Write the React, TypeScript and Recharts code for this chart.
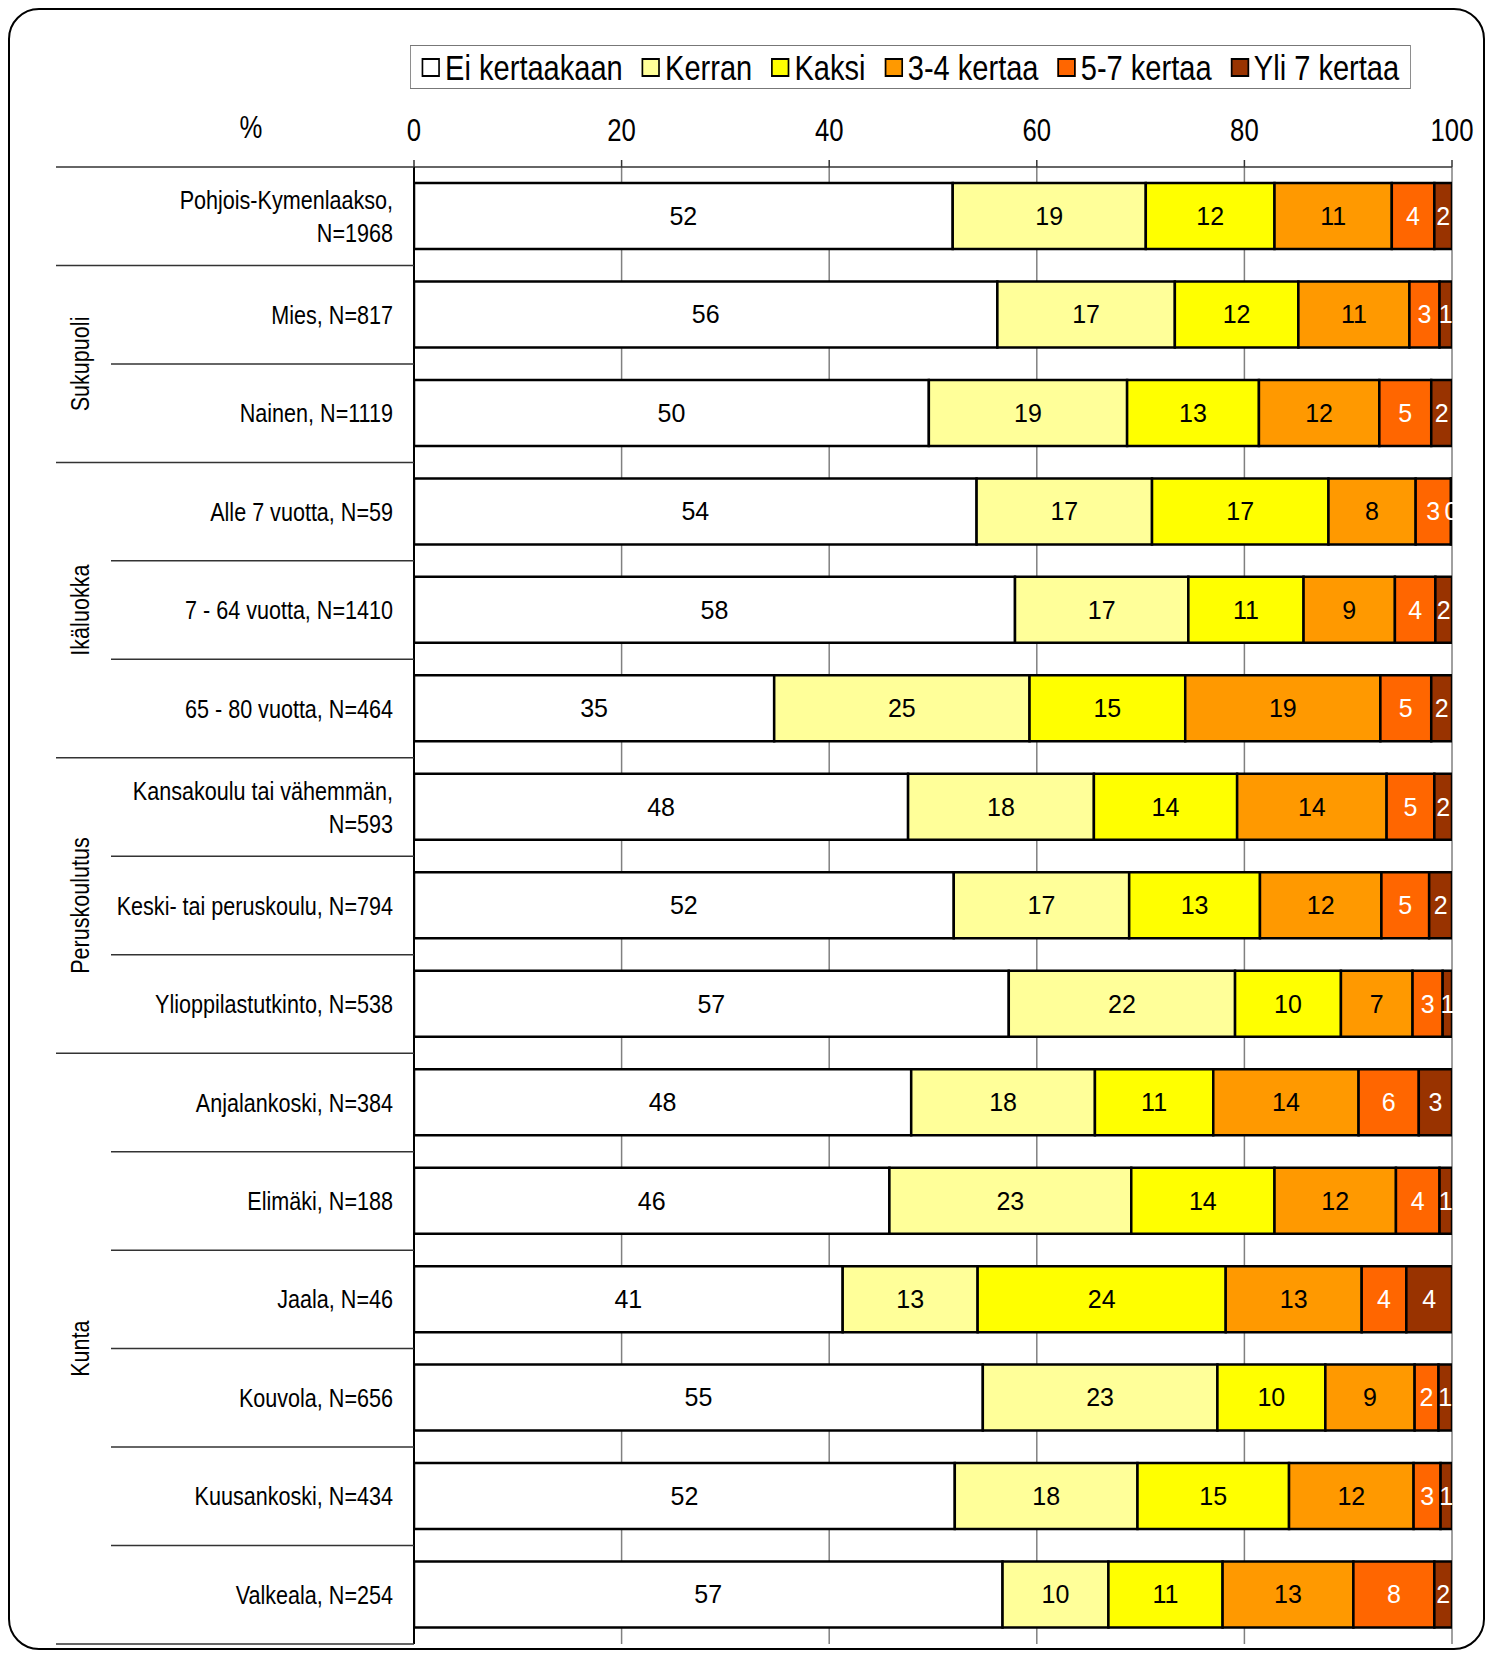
import React from 'react';
import { BarChart, Bar, XAxis, YAxis, CartesianGrid, LabelList } from 'recharts';

const categories = [
  'Pohjois-Kymenlaakso,\nN=1968',
  'Mies, N=817',
  'Nainen, N=1119',
  'Alle 7 vuotta, N=59',
  '7 - 64 vuotta, N=1410',
  '65 - 80 vuotta, N=464',
  'Kansakoulu tai vähemmän,\nN=593',
  'Keski- tai peruskoulu, N=794',
  'Ylioppilastutkinto, N=538',
  'Anjalankoski, N=384',
  'Elimäki, N=188',
  'Jaala, N=46',
  'Kouvola, N=656',
  'Kuusankoski, N=434',
  'Valkeala, N=254',
];

const groupNames = ['', 'Sukupuoli', 'Ikäluokka', 'Peruskoulutus', 'Kunta'];
const groupSizes = [1, 2, 3, 3, 6];

const eiKertaakaan = [51.9, 56.2, 49.6, 54.2, 57.9, 34.7, 47.6, 52.0, 57.3, 47.9, 45.8, 41.3, 54.8, 52.1, 56.7];
const kerran = [18.6, 17.1, 19.1, 16.9, 16.7, 24.6, 17.9, 16.9, 21.8, 17.7, 23.3, 13.0, 22.6, 17.6, 10.2];
const kaksi = [12.4, 11.9, 12.7, 17.0, 11.1, 15.0, 13.8, 12.6, 10.2, 11.4, 13.8, 23.9, 10.4, 14.6, 11.0];
const kertaa34 = [11.3, 10.7, 11.6, 8.4, 8.8, 18.8, 14.4, 11.7, 6.9, 14.0, 11.7, 13.1, 8.6, 12.0, 12.6];
const kertaa57 = [4.1, 2.9, 5.0, 3.4, 3.9, 4.9, 4.6, 4.6, 2.9, 5.8, 4.2, 4.3, 2.3, 2.6, 7.8];
const yli7 = [1.7, 1.2, 2.0, 0.1, 1.6, 2.0, 1.7, 2.2, 0.9, 3.2, 1.2, 4.4, 1.3, 1.1, 1.7];

const xTicks = [0, 20, 40, 60, 80, 100];

const series = [
  { key: 'ei', name: 'Ei kertaakaan', color: '#FFFFFF', text: '#000' },
  { key: 'kerran', name: 'Kerran', color: '#FFFF99', text: '#000' },
  { key: 'kaksi', name: 'Kaksi', color: '#FFFF00', text: '#000' },
  { key: 'k34', name: '3-4 kertaa', color: '#FF9900', text: '#000' },
  { key: 'k57', name: '5-7 kertaa', color: '#FF6600', text: '#fff' },
  { key: 'yli7', name: 'Yli 7 kertaa', color: '#993300', text: '#fff' },
];

const data = categories.map((name, i) => ({
  name,
  ei: eiKertaakaan[i],
  kerran: kerran[i],
  kaksi: kaksi[i],
  k34: kertaa34[i],
  k57: kertaa57[i],
  yli7: yli7[i],
}));

const W = 1486;
const H = 1656;
const MARGIN = { top: 127, right: 34, bottom: 12, left: 0 };
const X_AXIS_H = 40;
const Y_AXIS_W = 414;
const BAND = (H - MARGIN.top - MARGIN.bottom - X_AXIS_H) / categories.length;

// no Arial Narrow installed: squeeze Liberation Sans instead
const FONT = "'Liberation Sans', Arial, Helvetica, sans-serif";
const NARROW = 0.83;

// first row index of every group
const groupStarts: Record<number, number> = {};
{
  let acc = 0;
  groupSizes.forEach((s, g) => {
    groupStarts[acc] = g;
    acc += s;
  });
}

const CategoryTick = (props: any) => {
  const { x, y, payload } = props;
  const index = props.index ?? payload.index;
  const lines = String(payload.value).split('\n');
  const top = y - BAND / 2;
  const axisX = x + 21;
  const g = groupStarts[index];
  const isStart = g !== undefined;
  const last = index === categories.length - 1;
  return (
    <g>
      <line x1={isStart ? 56 : 111} x2={axisX} y1={top} y2={top} stroke="#333" strokeWidth={1.5} />
      {last && <line x1={56} x2={axisX} y1={y + BAND / 2} y2={y + BAND / 2} stroke="#333" strokeWidth={1.5} />}
      {isStart && groupNames[g] && (
        <text
          x={0}
          y={0}
          transform={`translate(80, ${top + (groupSizes[g] * BAND) / 2}) rotate(-90) scale(${NARROW}, 1)`}
          textAnchor="middle"
          dy="0.35em"
          fontSize={26}
          fontFamily={FONT}
          fill="#000"
        >
          {groupNames[g]}
        </text>
      )}
      <g transform={`translate(${x}, ${y}) scale(${NARROW}, 1)`}>
        <text x={0} y={0} textAnchor="end" fontSize={26} fontFamily={FONT} fill="#000">
          {lines.map((l, i) => (
            <tspan key={i} x={0} dy={i === 0 ? `${0.35 - (lines.length - 1) * 0.63}em` : '1.26em'}>
              {l}
            </tspan>
          ))}
        </text>
      </g>
    </g>
  );
};

const ValueTick = (props: any) => {
  const { x, y, payload } = props;
  return (
    <g transform={`translate(${x}, ${y - 4}) scale(${NARROW}, 1)`}>
      <text x={0} y={0} textAnchor="middle" fontSize={31} fontFamily={FONT} fill="#000">
        {payload.value}
      </text>
    </g>
  );
};

export default function App() {
  return (
    <div style={{ position: 'absolute', left: 0, top: 0, width: W, height: H, background: '#fff' }}>
      <svg width={W} height={H} style={{ position: 'absolute', left: 0, top: 0 }}>
        <rect x={9} y={9} width={1475} height={1640} rx={30} ry={30} fill="#fff" stroke="#000" strokeWidth={2} />
        <g transform={`translate(251, 127) scale(${NARROW}, 1)`}>
          <text x={0} y={0} dy="0.35em" textAnchor="middle" fontSize={31} fontFamily={FONT}>
            %
          </text>
        </g>
      </svg>
      <div
        style={{
          position: 'absolute',
          left: 410,
          top: 45,
          width: 1001 / NARROW,
          height: 44,
          boxSizing: 'border-box',
          border: '1.5px solid #777',
          background: '#fff',
          display: 'flex',
          alignItems: 'center',
          justifyContent: 'space-between',
          padding: `0 ${11 / NARROW}px`,
          fontFamily: FONT,
          fontSize: 35,
          lineHeight: 1,
          transform: `scaleX(${NARROW})`,
          transformOrigin: '0 0',
        }}
      >
        {series.map((s) => (
          <div key={s.key} style={{ display: 'flex', alignItems: 'center' }}>
            <span
              style={{
                display: 'inline-block',
                width: 15 / NARROW,
                height: 15,
                background: s.color,
                border: '2px solid #000',
                marginRight: 6,
              }}
            />
            <span>{s.name}</span>
          </div>
        ))}
      </div>
      <div style={{ position: 'absolute', left: 0, top: 0 }}>
        <BarChart width={W} height={H} data={data} layout="vertical" margin={MARGIN} barCategoryGap={16}>
          <CartesianGrid vertical horizontal={false} stroke="#808080" strokeWidth={1.5} />
          <XAxis
            type="number"
            orientation="top"
            domain={[0, 100]}
            ticks={xTicks}
            height={X_AXIS_H}
            tickSize={7}
            tickMargin={15}
            axisLine={{ stroke: '#333', strokeWidth: 1.5 }}
            tickLine={{ stroke: '#333', strokeWidth: 1.5 }}
            tick={<ValueTick />}
            allowDataOverflow
          />
          <YAxis
            type="category"
            dataKey="name"
            width={Y_AXIS_W}
            interval={0}
            tickSize={0}
            tickMargin={21}
            tickLine={false}
            axisLine={{ stroke: '#000', strokeWidth: 2 }}
            tick={<CategoryTick />}
          />
          {series.map((s) => (
            <Bar
              key={s.key}
              dataKey={s.key}
              name={s.name}
              stackId="a"
              fill={s.color}
              stroke="#000"
              strokeWidth={2.5}
              isAnimationActive={false}
            >
              <LabelList
                dataKey={s.key}
                position="center"
                formatter={(v: any) => Math.round(Number(v))}
                fill={s.text}
                fontSize={25}
                fontFamily={FONT}
              />
            </Bar>
          ))}
        </BarChart>
      </div>
    </div>
  );
}
